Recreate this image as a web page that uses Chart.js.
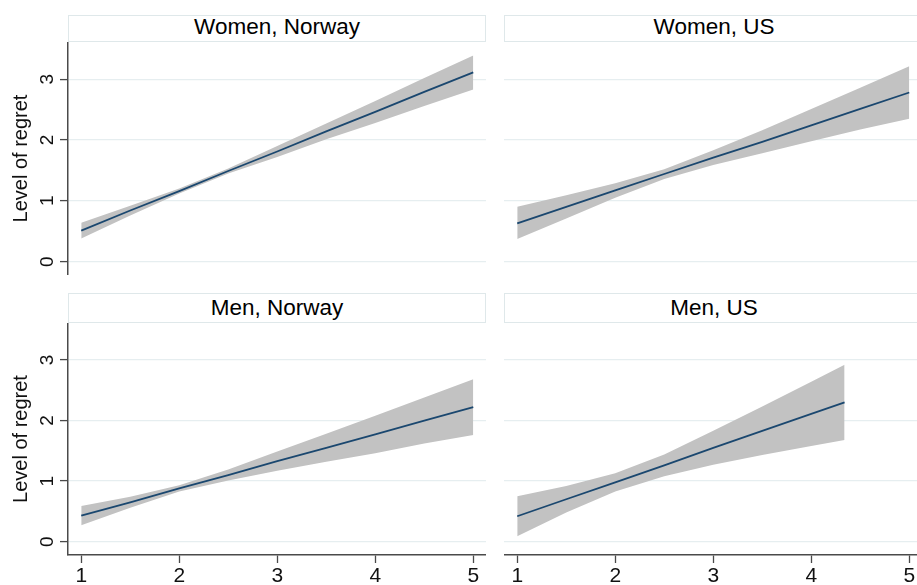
<!DOCTYPE html>
<html>
<head>
<meta charset="utf-8">
<script src="https://cdn.jsdelivr.net/npm/chart.js@4/dist/chart.umd.min.js"></script>
<style>
  html, body { margin: 0; padding: 0; background: #fff; overflow: hidden; }
  #wrap { position: relative; width: 917px; height: 585px; overflow: hidden; background: #fff;
          font-family: "Liberation Sans", Arial, Helvetica, sans-serif; }
  .panel { position: absolute; }
  .strip { position: absolute; box-sizing: border-box; border: 1px solid #dfe8ea; background: #fff;
           color: #000; font-size: 22.5px; text-align: center; }
  .strip span { position: absolute; left: 0; right: 0; }
</style>
</head>
<body>
<div id="wrap">
  <div class="strip" style="left:68px;top:15px;width:418px;height:27px;"><span style="top:-2px;">Women, Norway</span></div>
  <div class="strip" style="left:504px;top:15px;width:420px;height:27px;"><span style="top:-2px;">Women, US</span></div>
  <div class="strip" style="left:68px;top:293px;width:418px;height:30px;"><span style="top:1px;">Men, Norway</span></div>
  <div class="strip" style="left:504px;top:293px;width:420px;height:30px;"><span style="top:1px;">Men, US</span></div>

  <div class="panel" style="left:0;top:42px;width:486px;height:233px;"><canvas id="c1"></canvas></div>
  <div class="panel" style="left:504px;top:42px;width:418px;height:233px;"><canvas id="c2"></canvas></div>
  <div class="panel" style="left:0;top:323px;width:486px;height:270px;"><canvas id="c3"></canvas></div>
  <div class="panel" style="left:504px;top:323px;width:418px;height:270px;"><canvas id="c4"></canvas></div>
</div>
<script>
// Predictor values at which the fitted lines and 95% bands are evaluated
const xGrid = [1, 1.5, 2, 2.5, 3, 3.5, 4, 4.5, 5];
const xGridMenUS = [1, 1.5, 2, 2.5, 3, 3.5, 4, 4.34];

// Tick labels
const xTicks = [1, 2, 3, 4, 5];
const yTicks = [0, 1, 2, 3];

// Women, Norway
const womenNorwayFit = [0.51, 0.84, 1.16, 1.49, 1.81, 2.14, 2.46, 2.79, 3.11];
const womenNorwayHi  = [0.64, 0.92, 1.20, 1.53, 1.90, 2.27, 2.64, 3.02, 3.39];
const womenNorwayLo  = [0.38, 0.76, 1.12, 1.45, 1.72, 2.01, 2.28, 2.56, 2.83];

// Women, US
const womenUSFit = [0.63, 0.90, 1.17, 1.44, 1.71, 1.97, 2.24, 2.51, 2.78];
const womenUSHi  = [0.90, 1.09, 1.29, 1.52, 1.83, 2.16, 2.51, 2.86, 3.21];
const womenUSLo  = [0.37, 0.71, 1.05, 1.36, 1.59, 1.78, 1.98, 2.17, 2.35];

// Men, Norway
const menNorwayFit = [0.43, 0.65, 0.88, 1.10, 1.33, 1.55, 1.77, 2.00, 2.22];
const menNorwayHi  = [0.59, 0.74, 0.93, 1.19, 1.49, 1.78, 2.08, 2.38, 2.68];
const menNorwayLo  = [0.27, 0.56, 0.83, 1.01, 1.17, 1.32, 1.46, 1.62, 1.76];

// Men, US
const menUSFit = [0.42, 0.70, 0.98, 1.26, 1.55, 1.83, 2.11, 2.30];
const menUSHi  = [0.75, 0.92, 1.13, 1.44, 1.83, 2.23, 2.64, 2.92];
const menUSLo  = [0.09, 0.48, 0.83, 1.08, 1.27, 1.43, 1.58, 1.68];

const FONT = '"Liberation Sans", Arial, Helvetica, sans-serif';
const LINE_COLOR = '#1a476f';
const BAND_COLOR = '#c2c2c2';
const GRID_COLOR = '#e6eef0';
const AXIS_COLOR = '#4a4a4a';

const pts = (xs, ys) => xs.map((x, i) => ({ x: x, y: ys[i] }));

// Draws y tick labels rotated to read bottom-to-top
const rotatedYTicks = {
  id: 'rotatedYTicks',
  afterDraw(chart, args, opts) {
    if (!opts.show) return;
    const scale = chart.scales.y;
    const ctx = chart.ctx;
    ctx.save();
    ctx.font = '19px ' + FONT;
    ctx.fillStyle = '#111';
    ctx.textAlign = 'center';
    ctx.textBaseline = 'middle';
    scale.ticks.forEach(t => {
      const py = scale.getPixelForValue(t.value);
      ctx.save();
      ctx.translate(opts.x, py);
      ctx.rotate(-Math.PI / 2);
      ctx.fillText(String(t.value), 0, 1);
      ctx.restore();
    });
    ctx.restore();
  }
};

function makePanel(id, xs, fit, hi, lo, left, bottom) {
  new Chart(document.getElementById(id), {
    type: 'line',
    data: {
      datasets: [
        { data: pts(xs, fit), borderColor: LINE_COLOR, borderWidth: 1.8, pointRadius: 0, fill: false, order: 0 },
        { data: pts(xs, hi), borderWidth: 0, borderColor: 'rgba(0,0,0,0)', pointRadius: 0,
          backgroundColor: BAND_COLOR, fill: '+1', order: 1 },
        { data: pts(xs, lo), borderWidth: 0, borderColor: 'rgba(0,0,0,0)', pointRadius: 0, fill: false, order: 2 }
      ]
    },
    options: {
      responsive: true,
      maintainAspectRatio: false,
      animation: false,
      events: [],
      layout: { padding: 0 },
      plugins: {
        legend: { display: false },
        tooltip: { enabled: false },
        rotatedYTicks: { show: left, x: 47 }
      },
      elements: { line: { tension: 0 } },
      scales: {
        x: {
          type: 'linear',
          min: 0.865,
          max: 5.13,
          display: bottom,
          afterBuildTicks: s => { s.ticks = xTicks.map(v => ({ value: v })); },
          afterFit: s => { s.height = bottom ? 38 : 0; },
          grid: { drawOnChartArea: false, drawTicks: true, tickLength: 8, tickColor: AXIS_COLOR, tickWidth: 1.3 },
          border: { display: true, color: AXIS_COLOR, width: 1.5 },
          ticks: { color: '#111', font: { family: FONT, size: 21 }, padding: 1, maxRotation: 0 }
        },
        y: {
          type: 'linear',
          min: -0.22,
          max: 3.61,
          afterBuildTicks: s => { s.ticks = yTicks.map(v => ({ value: v })); },
          afterFit: s => { s.width = left ? 68 : 0; },
          grid: { color: GRID_COLOR, lineWidth: 1.2, drawTicks: left, tickLength: 8, tickColor: AXIS_COLOR, tickWidth: 1.3 },
          border: { display: left, color: AXIS_COLOR, width: 1.5 },
          ticks: { display: false },
          title: { display: left, text: 'Level of regret', color: '#111',
                   font: { family: FONT, size: 20 }, padding: { top: 9, bottom: 0 } }
        }
      }
    },
    plugins: [rotatedYTicks]
  });
}

makePanel('c1', xGrid, womenNorwayFit, womenNorwayHi, womenNorwayLo, true, false);
makePanel('c2', xGrid, womenUSFit, womenUSHi, womenUSLo, false, false);
makePanel('c3', xGrid, menNorwayFit, menNorwayHi, menNorwayLo, true, true);
makePanel('c4', xGridMenUS, menUSFit, menUSHi, menUSLo, false, true);
</script>
</body>
</html>
